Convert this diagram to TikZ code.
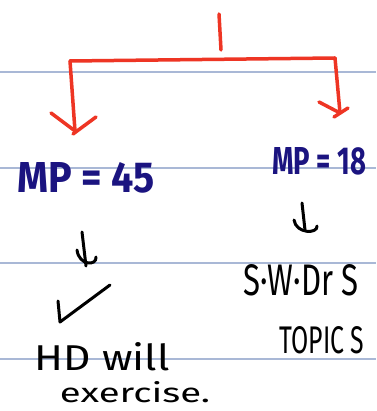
\documentclass[tikz,border=0pt]{standalone}
\usepackage{fontspec}
\setmainfont{Fira Sans}
\usepackage{graphicx}
\definecolor{rule}{HTML}{A9B8D6}
\definecolor{pen}{HTML}{EE3524}
\definecolor{navy}{HTML}{1B1480}
\tikzset{
  redpen/.style={draw=pen,line width=3.5pt,line cap=round,line join=round},
  blackpen/.style={draw=black,line width=3pt,line cap=round,line join=round},
  navytext/.style={text=navy,inner sep=0pt,font=\fontsize{30}{30}\selectfont\bfseries},
  blacktext/.style={text=black,inner sep=0pt,font=\fontsize{30}{30}\selectfont},
}
\begin{document}
\begin{tikzpicture}[x=1pt,y=-1pt]
\useasboundingbox (0,0) rectangle (376,411);
\fill[white] (0,0) rectangle (376,411);
% ruled lines
\foreach \yy in {72,168,263,359} \draw[rule,line width=1.3pt] (0,\yy) -- (376,\yy);
% red bracket
\coordinate (top1) at (219,14);
\coordinate (top2) at (221,50);
\coordinate (bl) at (70,61);
\coordinate (br) at (335,58);
\coordinate (lt) at (75,131);
\coordinate (rt) at (340,113);
\draw[redpen] (top1) -- (top2);
\draw[redpen] (bl) -- (br);
\draw[redpen] (bl) -- (lt);
\draw[redpen] (br) -- (rt);
\draw[redpen] (51,113) -- (lt);
\draw[redpen] (96,117) -- (73,134);
\draw[redpen] (319,102) -- (rt);
\draw[redpen] (348,108) -- (334,117);
% texts
\node[navytext] (mp45) at (86,178) {\resizebox{137pt}{30pt}{MP = 45}};
\node[navytext] (mp18) at (319,161) {\resizebox{94pt}{27pt}{MP = 18}};
\node[blacktext] (swd) at (301,280) {\resizebox{115pt}{31pt}{S·W·Dr S}};
\node[blacktext] (topic) at (322,340) {\resizebox{85pt}{27pt}{TOPIC S}};
\node[blacktext] (hd) at (102,357) {\resizebox{135pt}{28pt}{HD will}};
\node[blacktext] (ex) at (135,392) {\resizebox{150pt}{21pt}{exercise.}};
% hand arrows
\draw[blackpen] (82,232) -- (86,266);
\draw[blackpen] (77,250) .. controls (79,266) and (97,266) .. (96,257);
\draw[blackpen] (302,203) -- (305,230);
\draw[blackpen] (294,220) .. controls (296,234) and (318,234) .. (317,226);
% check mark
\draw[blackpen] (58,301) -- (60,322) -- (110,285);
\end{tikzpicture}
\end{document}
